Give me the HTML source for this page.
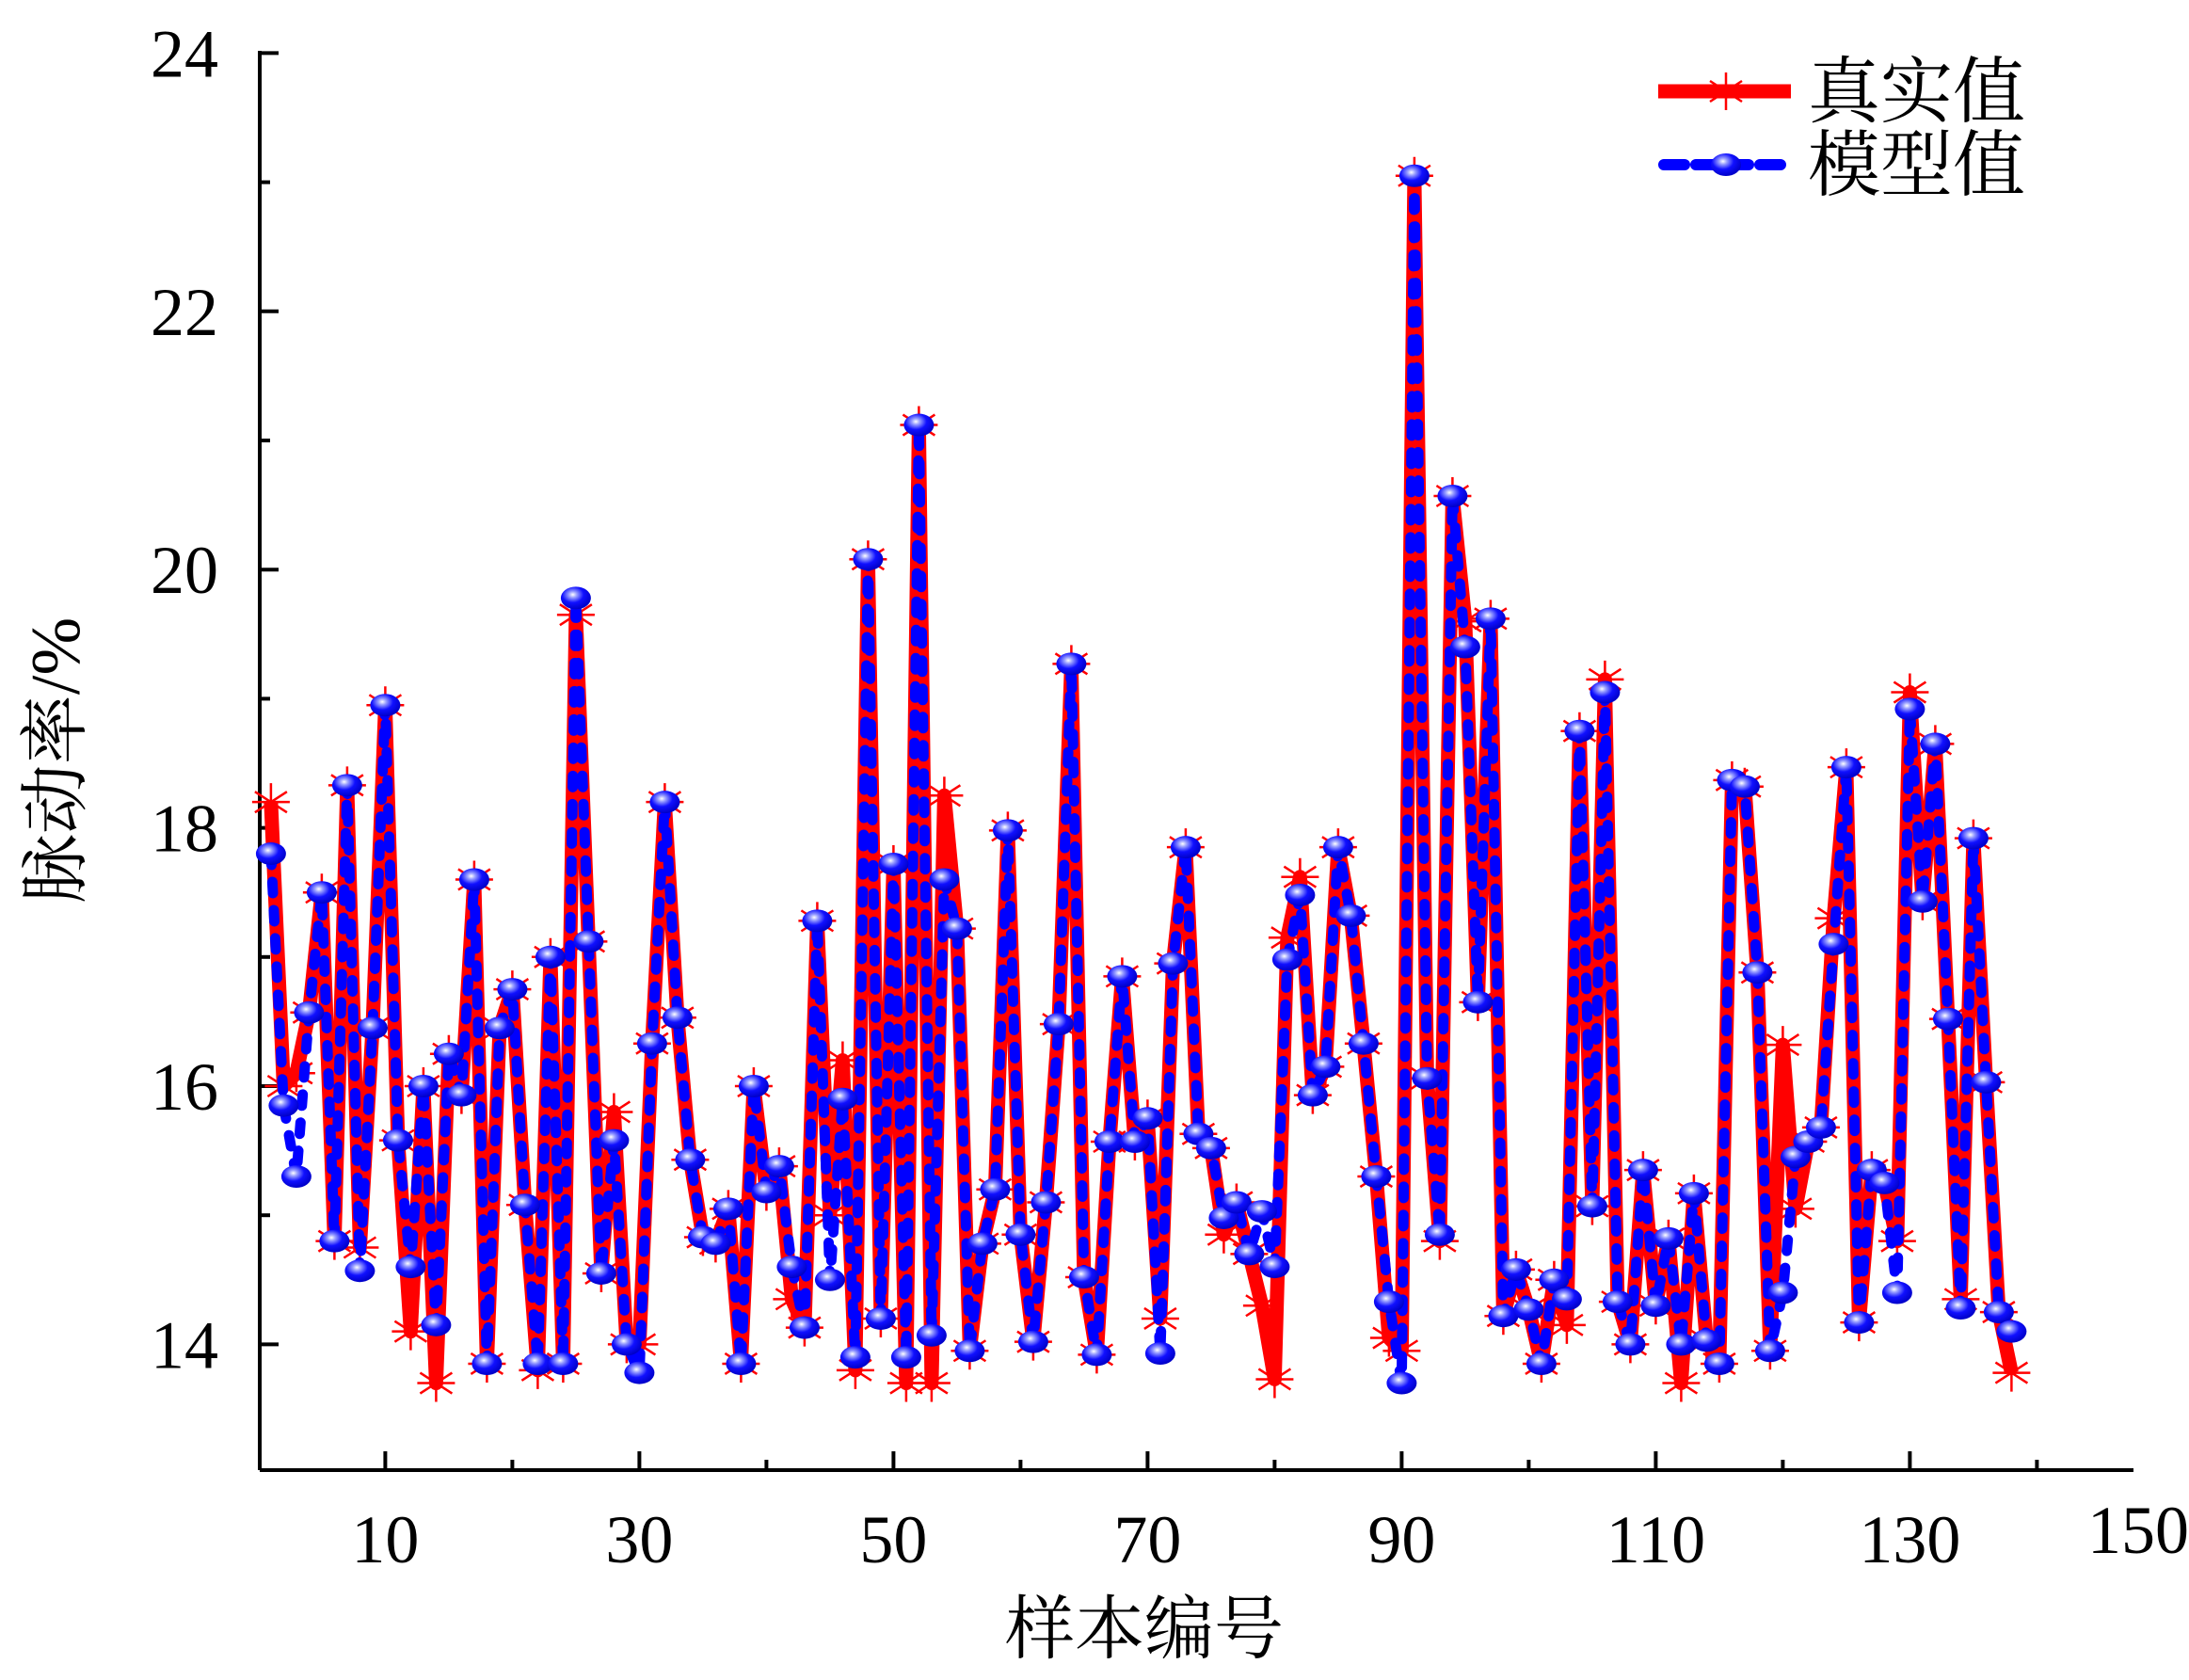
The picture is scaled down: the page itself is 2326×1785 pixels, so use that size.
<!DOCTYPE html>
<html><head><meta charset="utf-8"><style>
html,body{margin:0;padding:0;background:#fff;}
svg{display:block;}
text{font-family:"Liberation Serif","Noto Serif CJK SC",serif;fill:#000;}
</style></head><body>
<svg id="chart" width="2326" height="1785" viewBox="0 0 2326 1785" xmlns="http://www.w3.org/2000/svg">
<defs>
<radialGradient id="ball" cx="0.4" cy="0.35" r="0.65">
<stop offset="0" stop-color="#ffffff"/>
<stop offset="0.2" stop-color="#9aa0ff"/>
<stop offset="0.55" stop-color="#1010ff"/>
<stop offset="1" stop-color="#0000c8"/>
</radialGradient>
</defs>
<g id="axes"></g>
<g id="series-true"></g>
<g id="series-model"></g>
<text x="0" y="0" font-size="74" text-anchor="middle" transform="translate(84,808) rotate(-90)">脉动率/%</text>
<text x="1216" y="1756" font-size="74" text-anchor="middle">样本编号</text>
<g id="legend"></g>
</svg>
<script>
const trueVals=[18.2,16.0,16.1,16.57,17.5,14.8,18.33,14.75,16.45,18.95,15.58,14.1,16.0,13.7,16.25,15.93,17.6,13.85,16.45,16.75,15.08,13.8,17.0,13.85,19.65,17.12,14.55,15.8,14.0,14.0,16.33,18.2,16.53,15.43,14.83,14.78,15.05,13.85,16.0,15.18,15.38,14.35,14.13,17.28,15.0,16.2,13.8,20.08,14.2,17.72,13.7,21.12,13.7,18.25,17.22,13.95,14.78,15.2,17.98,14.85,14.02,15.1,16.48,19.27,14.52,13.92,15.57,16.85,15.57,15.75,14.2,16.95,17.85,15.63,15.52,14.85,15.1,14.7,14.3,13.73,17.15,17.62,15.93,16.15,17.85,17.32,16.33,15.3,14.05,13.95,23.05,16.06,14.8,20.57,19.6,16.65,19.62,14.22,14.58,14.27,13.85,14.5,14.15,18.75,15.07,19.15,14.33,14.0,15.35,14.3,14.82,13.7,15.17,14.03,13.85,18.37,18.32,16.88,13.95,16.32,15.05,15.57,15.68,17.3,18.47,14.17,15.35,15.25,14.8,19.05,17.43,18.65,16.52,14.35,17.92,16.03,14.25,13.78];
const modelVals=[17.8,15.85,15.3,16.57,17.5,14.8,18.33,14.57,16.45,18.95,15.58,14.6,16.0,14.15,16.25,15.93,17.6,13.85,16.45,16.75,15.08,13.85,17.0,13.85,19.78,17.12,14.55,15.58,14.0,13.78,16.33,18.2,16.53,15.43,14.83,14.78,15.05,13.85,16.0,15.18,15.38,14.6,14.13,17.28,14.5,15.9,13.9,20.08,14.2,17.72,13.9,21.12,14.07,17.6,17.22,13.95,14.78,15.2,17.98,14.85,14.02,15.1,16.48,19.27,14.52,13.92,15.57,16.85,15.57,15.75,13.93,16.95,17.85,15.63,15.52,14.98,15.1,14.7,15.03,14.6,16.98,17.48,15.93,16.15,17.85,17.32,16.33,15.3,14.33,13.7,23.05,16.06,14.85,20.57,19.4,16.65,19.62,14.22,14.58,14.27,13.85,14.5,14.35,18.75,15.07,19.05,14.33,14.0,15.35,14.3,14.82,14.0,15.17,14.03,13.85,18.37,18.32,16.88,13.95,14.4,15.45,15.57,15.68,17.1,18.47,14.17,15.35,15.25,14.4,18.92,17.43,18.65,16.52,14.28,17.92,16.03,14.25,14.1];
const xTickLabels=[10,30,50,70,90,110,130,150];
const yTickLabels=[14,16,18,20,22,24];
const legendLabels=["真实值","模型值"];

const NS="http://www.w3.org/2000/svg";
const X0=274.4, XS=13.5, Y24=56.4, YS=137.2;
const xs=v=>X0+v*XS;
const ys=v=>Y24+(24-v)*YS;
const AX=276, AY=1562, AXR=2267;
function mk(tag,attrs,parent){const e=document.createElementNS(NS,tag);for(const k in attrs)e.setAttribute(k,attrs[k]);parent.appendChild(e);return e;}

const axes=document.getElementById('axes');
let l=mk('line',{x1:AX,y1:AY,x2:AXR,y2:AY,stroke:'#000','stroke-width':4},axes);


l=mk('line',{x1:AX,y1:AY,x2:AX,y2:54,stroke:'#000','stroke-width':4},axes);


for(let v=14;v<=24;v++){
  const major=v%2===0;
  const t=mk('line',{x1:AX,y1:ys(v),x2:AX+(major?20:11),y2:ys(v),stroke:'#000','stroke-width':4},axes);
  
  
}
yTickLabels.forEach(v=>{
  const t=mk('text',{x:232,y:ys(v)+25,'font-size':72,'text-anchor':'end'},axes);
  t.textContent=v;
  
  
});
for(let v=10;v<=140;v+=10){
  const major=(v/10)%2===1;
  const t=mk('line',{x1:xs(v),y1:AY,x2:xs(v),y2:AY-(major?20:11),stroke:'#000','stroke-width':4},axes);
  
  
}
xTickLabels.forEach(v=>{
  const last=v===150;
  const t=mk('text',{x:last?2272:xs(v),y:last?1650:1660,'font-size':72,'text-anchor':'middle'},axes);
  t.textContent=v;
  
  
});

function star(g,cx,cy,r){
  return mk('path',{d:`M${cx-r} ${cy}H${cx+r}M${cx} ${cy-r}V${cy+r}M${cx-r*0.85} ${cy-r*0.55}L${cx+r*0.85} ${cy+r*0.55}M${cx-r*0.85} ${cy+r*0.55}L${cx+r*0.85} ${cy-r*0.55}`,stroke:'#ff0000','stroke-width':2.5,fill:'none'},g);
}
function ball(g,cx,cy){
  return mk('ellipse',{cx:cx,cy:cy,rx:16,ry:12,fill:'url(#ball)'},g);
}
const gT=document.getElementById('series-true');
const gM=document.getElementById('series-model');
let pl=mk('polyline',{points:trueVals.map((v,i)=>xs(i+1)+','+ys(v)).join(' '),fill:'none',stroke:'#ff0000','stroke-width':15,'stroke-linejoin':'round'},gT);


trueVals.forEach((v,i)=>{
  const s=star(gT,xs(i+1),ys(v),20);
  
  
});
pl=mk('polyline',{points:modelVals.map((v,i)=>xs(i+1)+','+ys(v)).join(' '),fill:'none',stroke:'#0000ff','stroke-width':11,'stroke-dasharray':'12 18','stroke-linecap':'round','stroke-linejoin':'round'},gM);


modelVals.forEach((v,i)=>{
  const b=ball(gM,xs(i+1),ys(v));
  
  
});

const lg=document.getElementById('legend');
let e=mk('line',{x1:1762,y1:97,x2:1903,y2:97,stroke:'#ff0000','stroke-width':15},lg);


e=star(lg,1834,97,20);


e=mk('text',{x:1921,y:124,'font-size':77},lg);
e.textContent=legendLabels[0];


e=mk('line',{x1:1768,y1:175,x2:1900,y2:175,stroke:'#0000ff','stroke-width':12,'stroke-dasharray':'22 12','stroke-linecap':'round'},lg);


e=ball(lg,1834,175);


e=mk('text',{x:1921,y:202,'font-size':77},lg);
e.textContent=legendLabels[1];


</script>
</body></html>
